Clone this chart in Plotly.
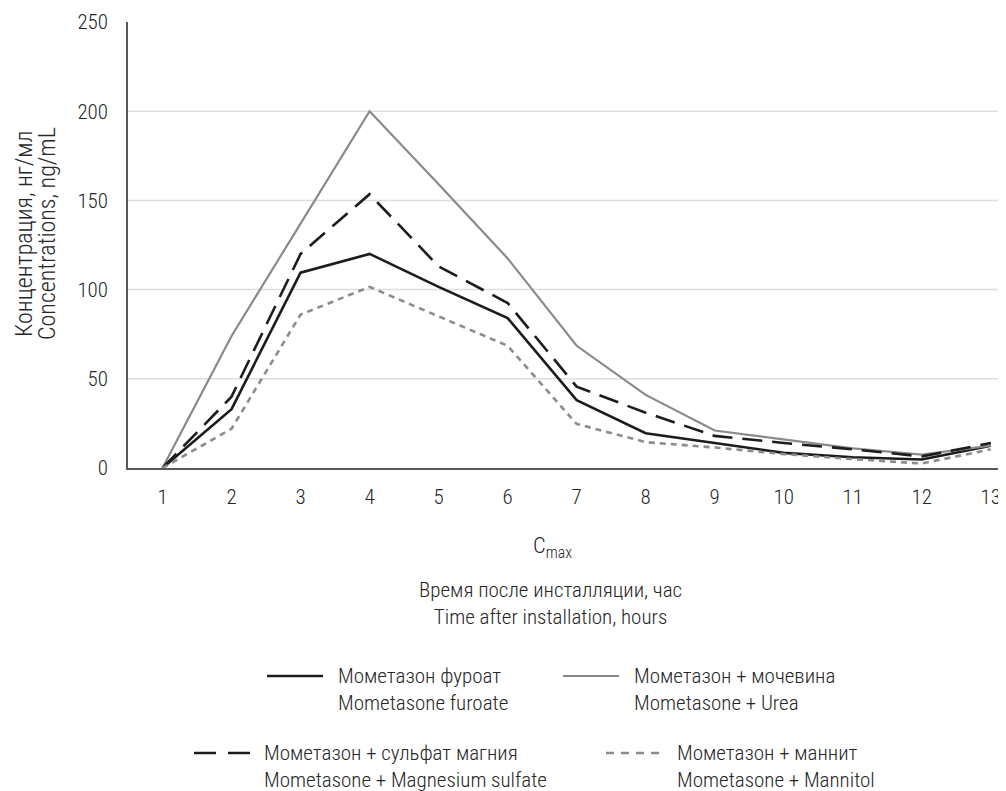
import plotly.graph_objects as go

# ---- data ----
hours = [1, 2, 3, 4, 5, 6, 7, 8, 9, 10, 11, 12, 13]
furoate = [0, 33, 109.5, 120, 101.5, 84, 38, 19.5, 14, 8.5, 6, 4.8, 12.5]
urea = [0, 74, 137, 200, 159, 117.5, 68.5, 41, 21, 16, 11, 7.5, 12.5]
magnesium = [0, 40, 120, 153.5, 113, 92.5, 45.6, 31, 18, 14, 10.5, 6.5, 14]
mannitol = [0, 22, 86, 101.5, 85, 68.5, 24.7, 14.5, 11.5, 7.8, 5, 2.5, 10.5]

y_ticks = [0, 50, 100, 150, 200, 250]
grid_vals = [50, 100, 150, 200]

names_ru = ["Мометазон фуроат", "Мометазон + мочевина",
            "Мометазон + сульфат магния", "Мометазон + маннит"]
names_en = ["Mometasone furoate", "Mometasone + Urea",
            "Mometasone + Magnesium sulfate", "Mometasone + Mannitol"]

FONT = "Roboto Condensed, Liberation Sans Narrow, Liberation Sans, Arial, sans-serif"
TXT = "#262626"
WEIGHT = 300

# page has an 8px body margin; coordinates below are screenshot pixels
OFF = 8
W, H = 998, 783
L, R, T, B = 120, 0, 14, 323
PW, PH = W - L - R, H - T - B
X0, Y0 = L + OFF, T + OFF + PH  # screenshot px of plot left / bottom


def px(x):
    return (x - X0) / PW


def py(y):
    return (Y0 - y) / PH


styles = [
    dict(color="#1c1c1c", width=2.6, dash="solid"),
    dict(color="#8a8a8a", width=2.2, dash="solid"),
    dict(color="#1c1c1c", width=2.6, dash="20px,10px"),
    dict(color="#8c8c8c", width=2.6, dash="6px,5px"),
]
legend_dash = ["solid", "solid", "22px,12px", "8px,7px"]
series = [furoate, urea, magnesium, mannitol]

fig = go.Figure()
for i, vals in enumerate(series):
    fig.add_trace(go.Scatter(
        x=hours, y=vals, mode="lines", line=styles[i],
        name=names_en[i], showlegend=False, hoverinfo="skip"))

for g in grid_vals:
    fig.add_shape(type="line", xref="paper", x0=0, x1=1, yref="y", y0=g, y1=g,
                  line=dict(color="#dedede", width=1.5), layer="below")

tf = dict(family=FONT, size=21, color=TXT, weight=WEIGHT)
fig.update_layout(
    width=W, height=H,
    margin=dict(l=L, r=R, t=T, b=B),
    paper_bgcolor="white", plot_bgcolor="white",
    font=dict(family=FONT, size=22, color=TXT, weight=WEIGHT),
    xaxis=dict(range=[0.5, 13.22], tickvals=hours, ticktext=[str(h) for h in hours],
               showgrid=False, zeroline=False, showline=True,
               linecolor="#595959", linewidth=2, ticks="", ticklabelstandoff=9,
               ticklabeloverflow="allow", tickfont=tf),
    yaxis=dict(range=[0, 250], tickvals=y_ticks, showgrid=False, zeroline=False,
               showline=True, linecolor="#595959", linewidth=1.5, ticks="",
               ticklabelstandoff=14, tickfont=tf),
    showlegend=False,
)

ann = []


def text(x, y, t, size=22.5, anchor="center", angle=0, align="center"):
    ann.append(dict(x=px(x), y=py(y), text=t, xref="paper", yref="paper",
                    showarrow=False, xanchor=anchor, yanchor="middle",
                    textangle=angle, align=align,
                    font=dict(family=FONT, size=size, color=TXT, weight=WEIGHT)))


text(24, 234, "Концентрация, нг/мл", size=24, angle=-90)
text(47, 234, "Concentrations, ng/mL", size=24, angle=-90)
text(552, 547, "C<sub>max</sub>")
text(550, 603, "Время после инсталляции, час<br>Time after installation, hours", size=21)

LEG_SIZE = 21
pitch = 1.3 * LEG_SIZE
leg = [
    (267, 323, 336, 676),
    (563, 619, 632, 676),
    (194, 250, 262, 753),
    (606, 662, 675, 753),
]
for i, (x0, x1, tx, ly) in enumerate(leg):
    st = styles[i]
    fig.add_shape(type="line", xref="paper", yref="paper",
                  x0=px(x0), x1=px(x1), y0=py(ly), y1=py(ly),
                  line=dict(color=st["color"], width=st["width"], dash=legend_dash[i]))
    text(tx, ly + pitch / 2, names_ru[i] + "<br>" + names_en[i],
         size=LEG_SIZE, anchor="left", align="left")

fig.update_layout(annotations=ann)
fig.write_html("out.html")
